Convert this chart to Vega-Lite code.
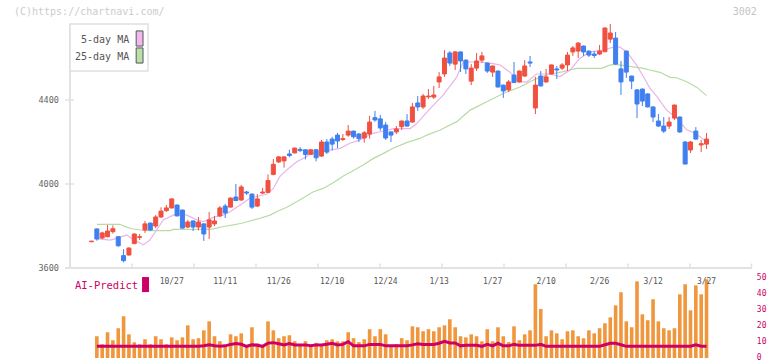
{
"$schema": "https://vega.github.io/schema/vega-lite/v6.json",
"width": 682, "height": 334,
"autosize": {"type": "none"},
"padding": {"left": 70, "top": 24, "right": 20, "bottom": 3},
"background": "white",
"config": {"view": {"stroke": null}, "font": "DejaVu Sans Mono", "text": {"font": "DejaVu Sans Mono"}},
"datasets": {
"c": [
{"i":0,"o":3725,"h":3729,"l":3724,"c":3728},{"i":1,"o":3786,"h":3788,"l":3730,"c":3738},{"i":2,"o":3743,"h":3773,"l":3737,"c":3767},{"i":3,"o":3749,"h":3805,"l":3746,"c":3776},{"i":4,"o":3773,"h":3803,"l":3764,"c":3787},
{"i":5,"o":3749,"h":3751,"l":3701,"c":3706},{"i":6,"o":3659,"h":3690,"l":3627,"c":3635},{"i":7,"o":3662,"h":3698,"l":3659,"c":3695},{"i":8,"o":3716,"h":3764,"l":3714,"c":3762},{"i":9,"o":3746,"h":3762,"l":3733,"c":3749},
{"i":10,"o":3781,"h":3824,"l":3767,"c":3810},{"i":11,"o":3814,"h":3816,"l":3776,"c":3781},{"i":12,"o":3800,"h":3852,"l":3790,"c":3843},{"i":13,"o":3843,"h":3889,"l":3838,"c":3871},{"i":14,"o":3873,"h":3900,"l":3868,"c":3886},
{"i":15,"o":3886,"h":3931,"l":3884,"c":3929},{"i":16,"o":3900,"h":3902,"l":3846,"c":3848},{"i":17,"o":3876,"h":3878,"l":3788,"c":3790},{"i":18,"o":3795,"h":3829,"l":3790,"c":3819},{"i":19,"o":3824,"h":3826,"l":3776,"c":3795},
{"i":20,"o":3795,"h":3843,"l":3779,"c":3819},{"i":21,"o":3810,"h":3812,"l":3729,"c":3762},{"i":22,"o":3795,"h":3867,"l":3738,"c":3829},{"i":23,"o":3810,"h":3848,"l":3800,"c":3824},{"i":24,"o":3848,"h":3895,"l":3843,"c":3886},
{"i":25,"o":3895,"h":3905,"l":3838,"c":3862},{"i":26,"o":3890,"h":3936,"l":3888,"c":3933},{"i":27,"o":3938,"h":4000,"l":3919,"c":3921},{"i":28,"o":3924,"h":3995,"l":3919,"c":3986},{"i":29,"o":3962,"h":3967,"l":3948,"c":3957},
{"i":30,"o":3952,"h":3955,"l":3881,"c":3890},{"i":31,"o":3895,"h":3952,"l":3890,"c":3929},{"i":32,"o":3957,"h":3981,"l":3952,"c":3962},{"i":33,"o":3960,"h":4046,"l":3958,"c":4017},{"i":34,"o":4046,"h":4119,"l":4041,"c":4094},
{"i":35,"o":4105,"h":4133,"l":4100,"c":4129},{"i":36,"o":4110,"h":4131,"l":4078,"c":4129},{"i":37,"o":4143,"h":4163,"l":4127,"c":4136},{"i":38,"o":4148,"h":4174,"l":4146,"c":4171},{"i":39,"o":4165,"h":4176,"l":4152,"c":4159},
{"i":40,"o":4163,"h":4165,"l":4117,"c":4141},{"i":41,"o":4141,"h":4165,"l":4138,"c":4163},{"i":42,"o":4163,"h":4165,"l":4108,"c":4125},{"i":43,"o":4133,"h":4210,"l":4129,"c":4200},{"i":44,"o":4200,"h":4214,"l":4143,"c":4152},
{"i":45,"o":4214,"h":4225,"l":4159,"c":4190},{"i":46,"o":4233,"h":4243,"l":4171,"c":4205},{"i":47,"o":4212,"h":4238,"l":4205,"c":4216},{"i":48,"o":4233,"h":4281,"l":4225,"c":4252},{"i":49,"o":4252,"h":4254,"l":4216,"c":4225},
{"i":50,"o":4238,"h":4243,"l":4200,"c":4216},{"i":51,"o":4219,"h":4252,"l":4197,"c":4244},{"i":52,"o":4238,"h":4324,"l":4216,"c":4295},{"i":53,"o":4316,"h":4348,"l":4297,"c":4305},{"i":54,"o":4310,"h":4329,"l":4254,"c":4267},
{"i":55,"o":4281,"h":4295,"l":4210,"c":4219},{"i":56,"o":4248,"h":4250,"l":4200,"c":4233},{"i":57,"o":4248,"h":4276,"l":4238,"c":4262},{"i":58,"o":4273,"h":4302,"l":4257,"c":4300},{"i":59,"o":4300,"h":4333,"l":4274,"c":4276},
{"i":60,"o":4295,"h":4386,"l":4293,"c":4367},{"i":61,"o":4386,"h":4419,"l":4348,"c":4367},{"i":62,"o":4367,"h":4429,"l":4357,"c":4419},{"i":63,"o":4415,"h":4452,"l":4405,"c":4419},{"i":64,"o":4414,"h":4467,"l":4405,"c":4424},
{"i":65,"o":4486,"h":4533,"l":4457,"c":4510},{"i":66,"o":4524,"h":4638,"l":4510,"c":4600},{"i":67,"o":4624,"h":4633,"l":4562,"c":4576},{"i":68,"o":4571,"h":4633,"l":4543,"c":4629},{"i":69,"o":4629,"h":4631,"l":4533,"c":4586},
{"i":70,"o":4590,"h":4593,"l":4524,"c":4548},{"i":71,"o":4490,"h":4571,"l":4471,"c":4552},{"i":72,"o":4552,"h":4624,"l":4538,"c":4586},{"i":73,"o":4590,"h":4629,"l":4576,"c":4610},{"i":74,"o":4576,"h":4578,"l":4529,"c":4538},
{"i":75,"o":4533,"h":4564,"l":4510,"c":4562},{"i":76,"o":4538,"h":4540,"l":4460,"c":4462},{"i":77,"o":4471,"h":4473,"l":4410,"c":4443},{"i":78,"o":4448,"h":4495,"l":4438,"c":4486},{"i":79,"o":4519,"h":4581,"l":4481,"c":4483},
{"i":80,"o":4486,"h":4541,"l":4483,"c":4538},{"i":81,"o":4514,"h":4590,"l":4512,"c":4562},{"i":82,"o":4581,"h":4610,"l":4557,"c":4576},{"i":83,"o":4362,"h":4510,"l":4333,"c":4471},{"i":84,"o":4514,"h":4538,"l":4465,"c":4467},
{"i":85,"o":4486,"h":4548,"l":4483,"c":4510},{"i":86,"o":4524,"h":4569,"l":4522,"c":4567},{"i":87,"o":4548,"h":4562,"l":4500,"c":4543},{"i":88,"o":4552,"h":4576,"l":4543,"c":4567},{"i":89,"o":4567,"h":4629,"l":4538,"c":4614},
{"i":90,"o":4629,"h":4657,"l":4610,"c":4648},{"i":91,"o":4633,"h":4676,"l":4600,"c":4671},{"i":92,"o":4657,"h":4659,"l":4610,"c":4629},{"i":93,"o":4633,"h":4636,"l":4605,"c":4614},{"i":94,"o":4619,"h":4633,"l":4600,"c":4612},
{"i":95,"o":4619,"h":4662,"l":4614,"c":4633},{"i":96,"o":4630,"h":4745,"l":4628,"c":4743},{"i":97,"o":4690,"h":4762,"l":4671,"c":4719},{"i":98,"o":4695,"h":4724,"l":4569,"c":4571},{"i":99,"o":4548,"h":4586,"l":4424,"c":4486},
{"i":100,"o":4633,"h":4635,"l":4505,"c":4533},{"i":101,"o":4514,"h":4516,"l":4452,"c":4490},{"i":102,"o":4448,"h":4452,"l":4314,"c":4381},{"i":103,"o":4452,"h":4455,"l":4371,"c":4395},{"i":104,"o":4429,"h":4431,"l":4365,"c":4367},
{"i":105,"o":4367,"h":4369,"l":4295,"c":4319},{"i":106,"o":4300,"h":4333,"l":4271,"c":4276},{"i":107,"o":4276,"h":4319,"l":4243,"c":4252},{"i":108,"o":4276,"h":4319,"l":4262,"c":4295},{"i":109,"o":4314,"h":4378,"l":4305,"c":4376},
{"i":110,"o":4319,"h":4321,"l":4243,"c":4248},{"i":111,"o":4200,"h":4205,"l":4095,"c":4095},{"i":112,"o":4162,"h":4205,"l":4148,"c":4200},{"i":113,"o":4252,"h":4271,"l":4212,"c":4214},{"i":114,"o":4186,"h":4210,"l":4152,"c":4192},
{"i":115,"o":4190,"h":4243,"l":4167,"c":4214}
],
"m5": [
{"i":1,"v":3740},{"i":3.5,"v":3733},{"i":4.7,"v":3741},{"i":6.6,"v":3757},{"i":7.5,"v":3741},{"i":9.7,"v":3710},{"i":10.9,"v":3733},{"i":12.2,"v":3781},{"i":13.4,"v":3829},{"i":15.3,"v":3852},{"i":16.5,"v":3860},{"i":17.8,"v":3852},{"i":19.7,"v":3829},{"i":20.9,"v":3821},{"i":22.8,"v":3841},{"i":24.6,"v":3852},{"i":25.9,"v":3868},{"i":27.8,"v":3900},{"i":29.6,"v":3932},{"i":31.5,"v":3944},{"i":32.8,"v":3951},{"i":34,"v":3979},{"i":35.2,"v":4035},{"i":36.5,"v":4067},{"i":38.4,"v":4106},{"i":40.2,"v":4130},{"i":40.9,"v":4146},{"i":42.7,"v":4149},{"i":44.6,"v":4162},{"i":46.5,"v":4170},{"i":48.3,"v":4194},{"i":50.2,"v":4210},{"i":52.4,"v":4240},{"i":54,"v":4249},{"i":56.5,"v":4264},{"i":59.6,"v":4264},{"i":60.8,"v":4288},{"i":63.3,"v":4359},{"i":65.8,"v":4424},{"i":68.3,"v":4510},{"i":69.5,"v":4581},{"i":72.7,"v":4581},{"i":75.1,"v":4573},{"i":76.4,"v":4567},{"i":78.2,"v":4533},{"i":80.1,"v":4486},{"i":81.4,"v":4486},{"i":83.2,"v":4524},{"i":85.7,"v":4524},{"i":87.6,"v":4512},{"i":89.5,"v":4543},{"i":91.3,"v":4598},{"i":93.2,"v":4629},{"i":95.4,"v":4636},{"i":97.6,"v":4652},{"i":98.8,"v":4652},{"i":100.1,"v":4629},{"i":101.9,"v":4567},{"i":103.2,"v":4511},{"i":104.4,"v":4457},{"i":105.7,"v":4417},{"i":107.5,"v":4353},{"i":109.4,"v":4314},{"i":111.3,"v":4258},{"i":112.5,"v":4245},{"i":113.8,"v":4225},{"i":115,"v":4200}
],
"m25": [
{"i":1,"v":3808},{"i":5.3,"v":3808},{"i":6.3,"v":3797},{"i":7.5,"v":3787},{"i":9.1,"v":3781},{"i":10.3,"v":3778},{"i":14.7,"v":3778},{"i":15.3,"v":3784},{"i":21.5,"v":3784},{"i":22.8,"v":3786},{"i":24,"v":3794},{"i":25.3,"v":3800},{"i":26.5,"v":3805},{"i":28.1,"v":3813},{"i":29.6,"v":3824},{"i":31.5,"v":3837},{"i":33.4,"v":3852},{"i":34.6,"v":3868},{"i":36.5,"v":3889},{"i":39,"v":3925},{"i":41.5,"v":3963},{"i":43.3,"v":3979},{"i":45.2,"v":4006},{"i":47.1,"v":4038},{"i":48.9,"v":4063},{"i":50.8,"v":4090},{"i":52.7,"v":4122},{"i":54.6,"v":4146},{"i":56.4,"v":4170},{"i":58.9,"v":4197},{"i":61.4,"v":4217},{"i":62.7,"v":4233},{"i":65.2,"v":4257},{"i":68.3,"v":4297},{"i":70.8,"v":4352},{"i":73.9,"v":4392},{"i":77,"v":4431},{"i":80.1,"v":4462},{"i":82.6,"v":4495},{"i":85.1,"v":4519},{"i":88.2,"v":4535},{"i":90.7,"v":4551},{"i":95.4,"v":4551},{"i":96.6,"v":4564},{"i":97.6,"v":4570},{"i":99.4,"v":4565},{"i":103.2,"v":4551},{"i":104.4,"v":4543},{"i":106.3,"v":4532},{"i":108.2,"v":4508},{"i":109.4,"v":4506},{"i":111.3,"v":4487},{"i":113.2,"v":4460},{"i":115,"v":4421}
],
"v": [
{"i":1,"v":13.6,"a":7.3},{"i":2,"v":8.6,"a":7.3},{"i":3,"v":16.1,"a":7.3},{"i":4,"v":11.1,"a":7.3},{"i":5,"v":18.6,"a":7.3},{"i":6,"v":26.1,"a":7.3},{"i":7,"v":14.8,"a":7.3},{"i":8,"v":9.8,"a":7.3},{"i":9,"v":8.6,"a":7.3},{"i":10,"v":11.7,"a":7.3},
{"i":11,"v":8.6,"a":7.3},{"i":12,"v":13.6,"a":7.3},{"i":13,"v":11.7,"a":7.3},{"i":14,"v":8.6,"a":7.3},{"i":15,"v":12.9,"a":7.3},{"i":16,"v":11.1,"a":7.3},{"i":17,"v":12.9,"a":7.3},{"i":18,"v":20.4,"a":7.3},{"i":19,"v":11.7,"a":7.3},{"i":20,"v":12.4,"a":7.3},
{"i":21,"v":17.3,"a":7.6},{"i":22,"v":22.9,"a":8.2},{"i":23,"v":13.6,"a":7.6},{"i":24,"v":10.5,"a":7.3},{"i":25,"v":8,"a":7.6},{"i":26,"v":14.8,"a":8.5},{"i":27,"v":13.6,"a":9},{"i":28,"v":15.4,"a":8.6},{"i":29,"v":7.9,"a":7.3},{"i":30,"v":19.2,"a":8.2},
{"i":31,"v":9.2,"a":8},{"i":32,"v":7.9,"a":7.3},{"i":33,"v":22.9,"a":9.3},{"i":34,"v":17.3,"a":9.6},{"i":35,"v":12.4,"a":8.9},{"i":36,"v":13.6,"a":8.2},{"i":37,"v":14.2,"a":9},{"i":38,"v":10.5,"a":8.2},{"i":39,"v":7.9,"a":8.2},{"i":40,"v":10.5,"a":8.2},
{"i":41,"v":7.9,"a":7.6},{"i":42,"v":9.5,"a":8.2},{"i":43,"v":7.9,"a":8.2},{"i":44,"v":11.1,"a":8.6},{"i":45,"v":11.7,"a":9.2},{"i":46,"v":10.4,"a":8.2},{"i":47,"v":10.4,"a":8.5},{"i":48,"v":16.1,"a":10.2},{"i":49,"v":12.4,"a":7.6},{"i":50,"v":9.9,"a":7.6},
{"i":51,"v":11.7,"a":7.6},{"i":52,"v":18,"a":8.5},{"i":53,"v":13.6,"a":8.5},{"i":54,"v":18,"a":8.5},{"i":55,"v":14.8,"a":7.6},{"i":56,"v":7.9,"a":7.6},{"i":57,"v":8.6,"a":7.6},{"i":58,"v":12.4,"a":7.6},{"i":59,"v":11.1,"a":7.6},{"i":60,"v":19.8,"a":8.2},
{"i":61,"v":19.2,"a":8.9},{"i":62,"v":16.7,"a":8.5},{"i":63,"v":18,"a":8.5},{"i":64,"v":16.7,"a":8.5},{"i":65,"v":19.2,"a":9.2},{"i":66,"v":20.4,"a":10.4},{"i":67,"v":24.2,"a":9.4},{"i":68,"v":19.2,"a":9.4},{"i":69,"v":13.6,"a":7.6},{"i":70,"v":12.9,"a":8},
{"i":71,"v":14.8,"a":8},{"i":72,"v":13.6,"a":8},{"i":73,"v":10.4,"a":7.3},{"i":74,"v":18,"a":8.5},{"i":75,"v":10.4,"a":7.6},{"i":76,"v":19.2,"a":9.2},{"i":77,"v":13.6,"a":7.6},{"i":78,"v":9.9,"a":7.6},{"i":79,"v":19.8,"a":8.5},{"i":80,"v":11.1,"a":7.9},
{"i":81,"v":14.8,"a":7.9},{"i":82,"v":17.3,"a":7.9},{"i":83,"v":46.1,"a":7.9},{"i":84,"v":30.6,"a":8.5},{"i":85,"v":13.6,"a":7.3},{"i":86,"v":17.3,"a":7.3},{"i":87,"v":15.4,"a":7.3},{"i":88,"v":11.7,"a":7.3},{"i":89,"v":16.7,"a":7.3},{"i":90,"v":17.3,"a":7.3},
{"i":91,"v":13.6,"a":7.3},{"i":92,"v":12.4,"a":7.3},{"i":93,"v":17.3,"a":7.3},{"i":94,"v":15.4,"a":7.3},{"i":95,"v":18.6,"a":7.3},{"i":96,"v":21.7,"a":8.3},{"i":97,"v":25.4,"a":9.2},{"i":98,"v":32.9,"a":9.2},{"i":99,"v":41.1,"a":8.3},{"i":100,"v":22.9,"a":7.3},
{"i":101,"v":19.2,"a":7.3},{"i":102,"v":47.9,"a":7.3},{"i":103,"v":27.3,"a":7.3},{"i":104,"v":23.6,"a":7.3},{"i":105,"v":36.7,"a":7.3},{"i":106,"v":22.9,"a":7.3},{"i":107,"v":18.6,"a":7.3},{"i":108,"v":17.3,"a":7.3},{"i":109,"v":18.6,"a":7.3},{"i":110,"v":39.8,"a":7.3},
{"i":111,"v":46.1,"a":7.3},{"i":112,"v":29.8,"a":7.3},{"i":113,"v":45.4,"a":8.2},{"i":114,"v":39.8,"a":7.3},{"i":115,"v":49.2,"a":7.3}
],
"g": [{"i":7.57},{"i":19.17},{"i":30.76},{"i":42.35},{"i":53.94},{"i":65.54},{"i":77.13},{"i":88.72},{"i":100.32},{"i":111.91},{"i":123.4}],
"lab": [{"i":15,"t":"10/27"},{"i":25,"t":"11/11"},{"i":35,"t":"11/26"},{"i":45,"t":"12/10"},{"i":55,"t":"12/24"},{"i":65,"t":"1/13"},{"i":75,"t":"1/27"},{"i":85,"t":"2/10"},{"i":95,"t":"2/26"},{"i":105,"t":"3/12"},{"i":115,"t":"3/27"}],
"py": [{"p":3600},{"p":4000},{"p":4400}],
"vy": [{"p":0},{"p":10},{"p":20},{"p":30},{"p":40},{"p":50}],
"one": [{}]
},
"layer": [
{"layer": [
 {"data": {"name": "m25"}, "mark": {"type": "line", "stroke": "#b6dba4", "strokeWidth": 1.2},
  "encoding": {"x": {"field": "i", "type": "quantitative", "scale": {"domain": [-4.02, 123.5], "nice": false, "zero": false, "padding": 0}, "axis": null},
   "y": {"field": "v", "type": "quantitative", "scale": {"domain": [3171.4, 4762], "nice": false, "zero": false}, "axis": null}}},
 {"data": {"name": "m5"}, "mark": {"type": "line", "stroke": "#ebb2eb", "strokeWidth": 1.2},
  "encoding": {"x": {"field": "i", "type": "quantitative", "scale": {"domain": [-4.02, 123.5], "nice": false, "zero": false, "padding": 0}, "axis": null},
   "y": {"field": "v", "type": "quantitative", "scale": {"domain": [3171.4, 4762], "nice": false, "zero": false}, "axis": null}}},
 {"data": {"name": "c"}, "mark": {"type": "rule", "strokeWidth": 1},
  "encoding": {"x": {"field": "i", "type": "quantitative", "scale": {"domain": [-4.02, 123.5], "nice": false, "zero": false, "padding": 0}, "axis": null},
   "y": {"field": "l", "type": "quantitative", "scale": {"domain": [3171.4, 4762], "nice": false, "zero": false}, "axis": null},
   "y2": {"field": "h"},
   "color": {"condition": {"test": "datum.c >= datum.o", "value": "#f05040"}, "value": "#3f7ff0"}}},
 {"data": {"name": "c"}, "mark": {"type": "bar", "width": 4, "strokeWidth": 1},
  "encoding": {"x": {"field": "i", "type": "quantitative", "scale": {"domain": [-4.02, 123.5], "nice": false, "zero": false, "padding": 0}, "axis": null},
   "y": {"field": "o", "type": "quantitative", "scale": {"domain": [3171.4, 4762], "nice": false, "zero": false}, "axis": null},
   "y2": {"field": "c"},
   "fill": {"condition": {"test": "datum.c >= datum.o", "value": "#f05040"}, "value": "#3f7ff0"},
   "stroke": {"condition": {"test": "datum.c >= datum.o", "value": "#f05040"}, "value": "#3f7ff0"}}},
 {"data": {"name": "one"}, "mark": {"type": "rule", "stroke": "#e2e2e2", "strokeWidth": 2},
  "encoding": {"x": {"datum": -4.02, "type": "quantitative", "scale": {"domain": [-4.02, 123.5], "nice": false, "zero": false, "padding": 0}, "axis": null},
   "y": {"datum": 3600, "type": "quantitative", "scale": {"domain": [3171.4, 4762], "nice": false, "zero": false}, "axis": null},
   "y2": {"datum": 4762}}},
 {"data": {"name": "one"}, "mark": {"type": "rule", "stroke": "#e2e2e2", "strokeWidth": 2},
  "encoding": {"x": {"datum": -4.95, "type": "quantitative", "scale": {"domain": [-4.02, 123.5], "nice": false, "zero": false, "padding": 0}, "axis": null},
   "x2": {"datum": 123.5},
   "y": {"datum": 3600, "type": "quantitative", "scale": {"domain": [3171.4, 4762], "nice": false, "zero": false}, "axis": null}}},
 {"data": {"name": "g"}, "mark": {"type": "rule", "stroke": "#e2e2e2", "strokeWidth": 1.5},
  "encoding": {"x": {"field": "i", "type": "quantitative", "scale": {"domain": [-4.02, 123.5], "nice": false, "zero": false, "padding": 0}, "axis": null},
   "y": {"datum": 3600, "type": "quantitative", "scale": {"domain": [3171.4, 4762], "nice": false, "zero": false}, "axis": null},
   "y2": {"datum": 3621}}},
 {"data": {"name": "py"}, "mark": {"type": "rule", "stroke": "#e2e2e2", "strokeWidth": 1.5},
  "encoding": {"x": {"datum": -4.95, "type": "quantitative", "scale": {"domain": [-4.02, 123.5], "nice": false, "zero": false, "padding": 0}, "axis": null},
   "x2": {"datum": -3.27},
   "y": {"field": "p", "type": "quantitative", "scale": {"domain": [3171.4, 4762], "nice": false, "zero": false}, "axis": null}}},
 {"data": {"name": "py"}, "mark": {"type": "text", "align": "right", "baseline": "middle", "fontSize": 8.5, "fill": "#666666", "font": "DejaVu Sans Mono"},
  "encoding": {"x": {"datum": -6.08, "type": "quantitative", "scale": {"domain": [-4.02, 123.5], "nice": false, "zero": false, "padding": 0}, "axis": null},
   "y": {"field": "p", "type": "quantitative", "scale": {"domain": [3171.4, 4762], "nice": false, "zero": false}, "axis": null},
   "text": {"field": "p", "type": "quantitative", "format": "d"}}},
 {"data": {"name": "one"}, "mark": {"type": "rect", "fill": "white", "stroke": "#e0e0e0", "strokeWidth": 1.5},
  "encoding": {"x": {"datum": -4.02, "type": "quantitative", "scale": {"domain": [-4.02, 123.5], "nice": false, "zero": false, "padding": 0}, "axis": null},
   "x2": {"datum": 10.56},
   "y": {"datum": 4762, "type": "quantitative", "scale": {"domain": [3171.4, 4762], "nice": false, "zero": false}, "axis": null},
   "y2": {"datum": 4538}}},
 {"data": {"name": "one"}, "mark": {"type": "rect", "fill": "#f0b8f0", "stroke": "#555555", "strokeWidth": 1},
  "encoding": {"x": {"datum": 8.35, "type": "quantitative", "scale": {"domain": [-4.02, 123.5], "nice": false, "zero": false, "padding": 0}, "axis": null},
   "x2": {"datum": 9.63},
   "y": {"datum": 4729, "type": "quantitative", "scale": {"domain": [3171.4, 4762], "nice": false, "zero": false}, "axis": null},
   "y2": {"datum": 4657}}},
 {"data": {"name": "one"}, "mark": {"type": "rect", "fill": "#b8e0a8", "stroke": "#555555", "strokeWidth": 1},
  "encoding": {"x": {"datum": 8.35, "type": "quantitative", "scale": {"domain": [-4.02, 123.5], "nice": false, "zero": false, "padding": 0}, "axis": null},
   "x2": {"datum": 9.63},
   "y": {"datum": 4648, "type": "quantitative", "scale": {"domain": [3171.4, 4762], "nice": false, "zero": false}, "axis": null},
   "y2": {"datum": 4576}}},
 {"data": {"name": "one"}, "mark": {"type": "text", "text": "5-day MA", "align": "right", "baseline": "middle", "fontSize": 10, "fill": "#555555", "font": "DejaVu Sans Mono"},
  "encoding": {"x": {"datum": 7.05, "type": "quantitative", "scale": {"domain": [-4.02, 123.5], "nice": false, "zero": false, "padding": 0}, "axis": null},
   "y": {"datum": 4688, "type": "quantitative", "scale": {"domain": [3171.4, 4762], "nice": false, "zero": false}, "axis": null}}},
 {"data": {"name": "one"}, "mark": {"type": "text", "text": "25-day MA", "align": "right", "baseline": "middle", "fontSize": 10, "fill": "#555555", "font": "DejaVu Sans Mono"},
  "encoding": {"x": {"datum": 7.05, "type": "quantitative", "scale": {"domain": [-4.02, 123.5], "nice": false, "zero": false, "padding": 0}, "axis": null},
   "y": {"datum": 4607, "type": "quantitative", "scale": {"domain": [3171.4, 4762], "nice": false, "zero": false}, "axis": null}}},
 {"data": {"name": "one"}, "mark": {"type": "text", "text": "(C)https://chartnavi.com/", "align": "left", "baseline": "middle", "fontSize": 10, "fill": "#cccccc", "font": "DejaVu Sans Mono"},
  "encoding": {"x": {"datum": -14.5, "type": "quantitative", "scale": {"domain": [-4.02, 123.5], "nice": false, "zero": false, "padding": 0}, "axis": null},
   "y": {"datum": 4819, "type": "quantitative", "scale": {"domain": [3171.4, 4762], "nice": false, "zero": false}, "axis": null}}},
 {"data": {"name": "one"}, "mark": {"type": "text", "text": "3002", "align": "right", "baseline": "middle", "fontSize": 10, "fill": "#c4c4c4", "font": "DejaVu Sans Mono"},
  "encoding": {"x": {"datum": 124.4, "type": "quantitative", "scale": {"domain": [-4.02, 123.5], "nice": false, "zero": false, "padding": 0}, "axis": null},
   "y": {"datum": 4819, "type": "quantitative", "scale": {"domain": [3171.4, 4762], "nice": false, "zero": false}, "axis": null}}}
]},
{"layer": [
 {"data": {"name": "v"}, "mark": {"type": "bar", "width": 3.6, "fill": "#f0963c"},
  "encoding": {"x": {"field": "i", "type": "quantitative", "scale": {"domain": [-4.02, 123.5], "nice": false, "zero": false, "padding": 0}, "axis": null},
   "y": {"field": "v", "type": "quantitative", "scale": {"domain": [0, 208.75], "nice": false, "zero": false}, "axis": null}}},
 {"data": {"name": "v"}, "mark": {"type": "line", "stroke": "#cc0066", "strokeWidth": 3},
  "encoding": {"x": {"field": "i", "type": "quantitative", "scale": {"domain": [-4.02, 123.5], "nice": false, "zero": false, "padding": 0}, "axis": null},
   "y": {"field": "a", "type": "quantitative", "scale": {"domain": [0, 208.75], "nice": false, "zero": false}, "axis": null}}},
 {"data": {"name": "lab"}, "mark": {"type": "text", "align": "center", "baseline": "middle", "fontSize": 8, "fill": "#555555", "font": "DejaVu Sans Mono"},
  "encoding": {"x": {"field": "i", "type": "quantitative", "scale": {"domain": [-4.02, 123.5], "nice": false, "zero": false, "padding": 0}, "axis": null},
   "y": {"datum": 47.5, "type": "quantitative", "scale": {"domain": [0, 208.75], "nice": false, "zero": false}, "axis": null},
   "text": {"field": "t"}}},
 {"data": {"name": "vy"}, "mark": {"type": "text", "align": "left", "baseline": "middle", "fontSize": 8, "fill": "#cc0066", "font": "DejaVu Sans Mono"},
  "encoding": {"x": {"datum": 124.4, "type": "quantitative", "scale": {"domain": [-4.02, 123.5], "nice": false, "zero": false, "padding": 0}, "axis": null},
   "y": {"field": "p", "type": "quantitative", "scale": {"domain": [0, 208.75], "nice": false, "zero": false}, "axis": null},
   "text": {"field": "p", "type": "quantitative", "format": "d"}}},
 {"data": {"name": "one"}, "mark": {"type": "text", "text": "AI-Predict", "align": "left", "baseline": "middle", "fontSize": 10.5, "fill": "#cc0066", "font": "DejaVu Sans Mono"},
  "encoding": {"x": {"datum": -3.1, "type": "quantitative", "scale": {"domain": [-4.02, 123.5], "nice": false, "zero": false, "padding": 0}, "axis": null},
   "y": {"datum": 45, "type": "quantitative", "scale": {"domain": [0, 208.75], "nice": false, "zero": false}, "axis": null}}},
 {"data": {"name": "one"}, "mark": {"type": "rect", "fill": "#cc0066"},
  "encoding": {"x": {"datum": 9.45, "type": "quantitative", "scale": {"domain": [-4.02, 123.5], "nice": false, "zero": false, "padding": 0}, "axis": null},
   "x2": {"datum": 10.75},
   "y": {"datum": 41.2, "type": "quantitative", "scale": {"domain": [0, 208.75], "nice": false, "zero": false}, "axis": null},
   "y2": {"datum": 50.6}}}
]}
],
"resolve": {"scale": {"y": "independent"}}
}
